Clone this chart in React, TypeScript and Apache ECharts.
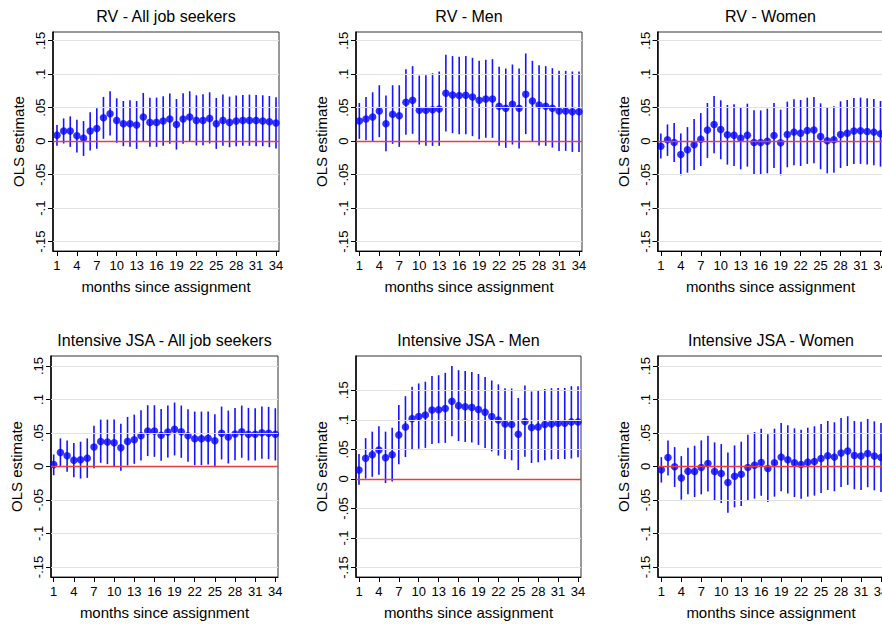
import React, { useEffect, useRef } from "react";
import * as echarts from "echarts";

// months since assignment
const months = Array.from({ length: 34 }, (_, i) => i + 1);
const xTickValues = [1, 4, 7, 10, 13, 16, 19, 22, 25, 28, 31, 34];
const yTickValues = [-0.15, -0.1, -0.05, 0, 0.05, 0.1, 0.15];
const yTickLabels = ["-.15", "-.1", "-.05", "0", ".05", ".1", ".15"];

const panelTitles = [
  "RV - All job seekers",
  "RV - Men",
  "RV - Women",
  "Intensive JSA - All job seekers",
  "Intensive JSA - Men",
  "Intensive JSA - Women",
];

// RV - All job seekers
const rvAllEst = [0.009, 0.015, 0.015, 0.008, 0.0045, 0.015, 0.019, 0.035, 0.041, 0.031, 0.026, 0.026, 0.024, 0.036, 0.028, 0.028, 0.03, 0.033, 0.025, 0.033, 0.036, 0.031, 0.031, 0.034, 0.026, 0.031, 0.028, 0.03, 0.031, 0.031, 0.031, 0.03, 0.029, 0.027];
const rvAllHi = [0.024, 0.034, 0.037, 0.032, 0.03, 0.043, 0.049, 0.066, 0.0745, 0.064, 0.06, 0.061, 0.06, 0.072, 0.065, 0.065, 0.067, 0.071, 0.063, 0.0715, 0.0745, 0.0685, 0.07, 0.073, 0.0645, 0.0695, 0.0665, 0.068, 0.069, 0.0695, 0.069, 0.0685, 0.0675, 0.0655];
const rvAllLo = [-0.007, -0.0035, -0.0085, -0.017, -0.022, -0.014, -0.0115, 0.0035, 0.0085, -0.0025, -0.0075, -0.0085, -0.0115, 0.0, -0.0085, -0.0085, -0.007, -0.004, -0.0125, -0.004, -0.001, -0.0065, -0.006, -0.0035, -0.0115, -0.007, -0.009, -0.0075, -0.007, -0.007, -0.0075, -0.0075, -0.009, -0.011];

// RV - Men
const rvMenEst = [0.03, 0.033, 0.036, 0.045, 0.026, 0.04, 0.038, 0.058, 0.061, 0.046, 0.046, 0.047, 0.048, 0.0715, 0.069, 0.068, 0.0685, 0.066, 0.061, 0.063, 0.063, 0.052, 0.049, 0.055, 0.049, 0.07, 0.06, 0.054, 0.052, 0.049, 0.045, 0.045, 0.044, 0.044];
const rvMenHi = [0.057, 0.066, 0.073, 0.0835, 0.068, 0.0835, 0.0835, 0.1075, 0.112, 0.098, 0.0985, 0.1015, 0.104, 0.129, 0.127, 0.126, 0.127, 0.1245, 0.12, 0.1215, 0.1225, 0.111, 0.1085, 0.1145, 0.1085, 0.131, 0.12, 0.1135, 0.112, 0.109, 0.105, 0.105, 0.104, 0.104];
const rvMenLo = [0.0035, 0.0015, 0.0, 0.006, -0.015, -0.004, -0.0085, 0.0095, 0.011, -0.005, -0.007, -0.007, -0.007, 0.0145, 0.012, 0.0105, 0.0105, 0.0075, 0.003, 0.005, 0.005, -0.007, -0.01, -0.005, -0.011, 0.0105, 0.0, -0.0065, -0.007, -0.0095, -0.0145, -0.0145, -0.016, -0.016];

// RV - Women
const rvWomenEst = [-0.0075, 0.002, -0.002, -0.02, -0.013, -0.0055, 0.003, 0.0165, 0.025, 0.0175, 0.0095, 0.009, 0.0045, 0.009, -0.002, -0.002, 0.0, 0.0085, -0.0025, 0.01, 0.0135, 0.012, 0.016, 0.0165, 0.007, 0.0005, 0.002, 0.01, 0.012, 0.015, 0.0155, 0.0145, 0.0135, 0.011];
const rvWomenHi = [0.0115, 0.025, 0.027, 0.0115, 0.021, 0.033, 0.042, 0.057, 0.0675, 0.061, 0.054, 0.055, 0.051, 0.056, 0.046, 0.046, 0.0485, 0.057, 0.047, 0.059, 0.0625, 0.0615, 0.065, 0.066, 0.0565, 0.0495, 0.052, 0.0595, 0.0615, 0.0645, 0.065, 0.064, 0.063, 0.06];
const rvWomenLo = [-0.026, -0.022, -0.031, -0.051, -0.047, -0.043, -0.037, -0.025, -0.018, -0.027, -0.035, -0.037, -0.042, -0.038, -0.05, -0.05, -0.048, -0.04, -0.051, -0.039, -0.036, -0.037, -0.034, -0.033, -0.042, -0.048, -0.047, -0.04, -0.037, -0.034, -0.034, -0.035, -0.036, -0.038];

// Intensive JSA - All job seekers
const jsaAllEst = [0.003, 0.021, 0.016, 0.0095, 0.01, 0.0125, 0.029, 0.0375, 0.0365, 0.0355, 0.028, 0.0375, 0.04, 0.046, 0.053, 0.053, 0.0465, 0.0515, 0.0555, 0.052, 0.046, 0.0415, 0.0415, 0.042, 0.0385, 0.0495, 0.044, 0.0485, 0.052, 0.048, 0.048, 0.0505, 0.0495, 0.048];
const jsaAllHi = [0.018, 0.042, 0.039, 0.035, 0.037, 0.042, 0.061, 0.07, 0.07, 0.07, 0.064, 0.074, 0.0775, 0.084, 0.0915, 0.0915, 0.086, 0.091, 0.0955, 0.091, 0.0855, 0.082, 0.082, 0.082, 0.078, 0.0895, 0.0835, 0.0875, 0.091, 0.0875, 0.087, 0.0895, 0.089, 0.087];
const jsaAllLo = [-0.013, 0.0, -0.008, -0.016, -0.018, -0.017, -0.0025, 0.0055, 0.0035, 0.0005, -0.0065, 0.0015, 0.004, 0.009, 0.0155, 0.0145, 0.0085, 0.0135, 0.0165, 0.013, 0.007, 0.002, 0.002, 0.003, -0.001, 0.0105, 0.0045, 0.0095, 0.013, 0.009, 0.009, 0.0115, 0.011, 0.009];

// Intensive JSA - Men
const jsaMenEst = [0.015, 0.035, 0.041, 0.049, 0.036, 0.041, 0.0745, 0.088, 0.102, 0.1055, 0.108, 0.1165, 0.117, 0.119, 0.1315, 0.124, 0.122, 0.121, 0.1175, 0.113, 0.1055, 0.0995, 0.093, 0.092, 0.0755, 0.097, 0.087, 0.088, 0.092, 0.093, 0.094, 0.094, 0.0965, 0.0965];
const jsaMenHi = [0.042, 0.069, 0.08, 0.089, 0.08, 0.0865, 0.125, 0.14, 0.156, 0.1615, 0.1645, 0.174, 0.1755, 0.1795, 0.191, 0.184, 0.1825, 0.181, 0.1775, 0.1725, 0.1665, 0.16, 0.1535, 0.153, 0.137, 0.158, 0.148, 0.149, 0.152, 0.1535, 0.154, 0.154, 0.157, 0.157];
const jsaMenLo = [-0.01, 0.0005, 0.0035, 0.007, -0.007, -0.0045, 0.025, 0.037, 0.05, 0.051, 0.0525, 0.059, 0.0605, 0.061, 0.072, 0.064, 0.0625, 0.0615, 0.0575, 0.0525, 0.0465, 0.0395, 0.0335, 0.0315, 0.015, 0.0375, 0.027, 0.028, 0.0315, 0.033, 0.0335, 0.0335, 0.0345, 0.0365];

// Intensive JSA - Women
const jsaWomenEst = [-0.005, 0.0135, -0.0005, -0.017, -0.007, -0.0075, -0.0015, 0.0045, -0.0075, -0.0105, -0.024, -0.0145, -0.0115, -0.0015, 0.002, 0.006, -0.003, 0.0055, 0.014, 0.01, 0.0055, 0.003, 0.0065, 0.0075, 0.012, 0.016, 0.014, 0.02, 0.023, 0.0165, 0.0155, 0.0195, 0.0155, 0.0135];
const jsaWomenHi = [0.014, 0.039, 0.029, 0.0155, 0.028, 0.031, 0.039, 0.046, 0.036, 0.0335, 0.021, 0.0315, 0.037, 0.0475, 0.0515, 0.0565, 0.048, 0.0565, 0.065, 0.0615, 0.057, 0.055, 0.058, 0.06, 0.0635, 0.068, 0.066, 0.0725, 0.075, 0.068, 0.067, 0.071, 0.0675, 0.065];
const jsaWomenLo = [-0.024, -0.0135, -0.0305, -0.0495, -0.0415, -0.0455, -0.0415, -0.0375, -0.0505, -0.0545, -0.069, -0.061, -0.059, -0.05, -0.048, -0.0435, -0.053, -0.045, -0.037, -0.0405, -0.0455, -0.048, -0.045, -0.0435, -0.0395, -0.035, -0.037, -0.0305, -0.0275, -0.034, -0.035, -0.031, -0.0355, -0.038];

const panelData = [
  [rvAllEst, rvAllLo, rvAllHi],
  [rvMenEst, rvMenLo, rvMenHi],
  [rvWomenEst, rvWomenLo, rvWomenHi],
  [jsaAllEst, jsaAllLo, jsaAllHi],
  [jsaMenEst, jsaMenLo, jsaMenHi],
  [jsaWomenEst, jsaWomenLo, jsaWomenHi],
];

// layout of the six plot regions (pixels) and axis ranges
const layouts = [
  { left: 53, top: 32, width: 226, height: 219, xMin: 0.4, xMax: 34.45, yMin: -0.164, yMax: 0.163 },
  { left: 356, top: 32, width: 226, height: 219, xMin: 0.5, xMax: 34.45, yMin: -0.164, yMax: 0.163 },
  { left: 657.5, top: 32, width: 226, height: 219, xMin: 0.5, xMax: 34.45, yMin: -0.164, yMax: 0.163 },
  { left: 51, top: 356, width: 227, height: 221, xMin: 0.6, xMax: 34.4, yMin: -0.165, yMax: 0.165 },
  { left: 356, top: 356, width: 225, height: 221, xMin: 0.55, xMax: 34.45, yMin: -0.166, yMax: 0.208 },
  { left: 658, top: 356, width: 226, height: 221, xMin: 0.5, xMax: 34.45, yMin: -0.165, yMax: 0.165 },
];

const FONT = "'Liberation Sans', Arial, Helvetica, sans-serif";
const BLUE = "#0000ff";

function buildOption() {
  const grid: any[] = [];
  const xAxis: any[] = [];
  const yAxis: any[] = [];
  const series: any[] = [];
  const title: any[] = [];

  layouts.forEach((L, i) => {
    grid.push({
      left: L.left,
      top: L.top,
      width: L.width,
      height: L.height,
      show: true,
      borderColor: "#333",
      borderWidth: 1,
      backgroundColor: "#fff",
      containLabel: false,
      outerBoundsMode: "none",
    });
    title.push({
      text: panelTitles[i],
      left: L.left + L.width / 2,
      top: L.top - 24,
      textAlign: "center",
      padding: 0,
      textStyle: { fontFamily: FONT, fontSize: 16, fontWeight: "normal", color: "#000" },
    });
    xAxis.push({
      type: "value",
      gridIndex: i,
      min: L.xMin,
      max: L.xMax,
      name: "months since assignment",
      nameLocation: "middle",
      nameGap: 28,
      nameTextStyle: { fontFamily: FONT, fontSize: 15, color: "#000" },
      axisLine: { show: true, onZero: false, lineStyle: { color: "#000", width: 1 } },
      axisTick: { show: true, length: 5, customValues: xTickValues, lineStyle: { color: "#000", width: 1 } },
      axisLabel: {
        show: true,
        customValues: xTickValues,
        margin: 8,
        fontFamily: FONT,
        fontSize: 13,
        color: "#000",
      },
      splitLine: { show: false },
    });
    yAxis.push({
      type: "value",
      gridIndex: i,
      min: L.yMin,
      max: L.yMax,
      name: "OLS estimate",
      nameLocation: "middle",
      nameGap: 27,
      nameTextStyle: { fontFamily: FONT, fontSize: 15, color: "#000" },
      axisLine: { show: true, onZero: false, lineStyle: { color: "#000", width: 1.5 } },
      axisTick: { show: true, length: 5, customValues: yTickValues, lineStyle: { color: "#000", width: 1 } },
      axisLabel: {
        show: true,
        customValues: yTickValues,
        rotate: 90,
        margin: 6,
        fontFamily: FONT,
        fontSize: 13,
        color: "#000",
        formatter: (v: number) => {
          const k = yTickValues.findIndex((t) => Math.abs(t - v) < 1e-9);
          return k >= 0 ? yTickLabels[k] : "";
        },
      },
      splitLine: { show: false },
    });

    // gridlines and zero reference line
    series.push({
      type: "scatter",
      xAxisIndex: i,
      yAxisIndex: i,
      data: [],
      z: 1,
      silent: true,
      markLine: {
        silent: true,
        symbol: "none",
        animation: false,
        label: { show: false },
        data: [
          ...yTickValues
            .filter((v) => v !== 0)
            .map((v) => ({ yAxis: v, lineStyle: { color: "#e2e2e2", width: 1.2, type: "solid" } })),
          { yAxis: 0, lineStyle: { color: "#f03c3c", width: 1.4, type: "solid" } },
        ],
      },
    });

    const [est, lo, hi] = panelData[i];
    // confidence intervals
    series.push({
      type: "custom",
      xAxisIndex: i,
      yAxisIndex: i,
      z: 3,
      silent: true,
      data: months.map((m, k) => [m, lo[k], hi[k]]),
      encode: { x: 0, y: [1, 2] },
      renderItem: (params: any, api: any) => {
        const x = api.value(0);
        const p1 = api.coord([x, api.value(1)]);
        const p2 = api.coord([x, api.value(2)]);
        return {
          type: "line",
          shape: { x1: p1[0], y1: p1[1], x2: p2[0], y2: p2[1] },
          style: { stroke: "#1414ff", lineWidth: 1.6 },
        };
      },
    });
    // point estimates
    series.push({
      type: "scatter",
      xAxisIndex: i,
      yAxisIndex: i,
      z: 4,
      silent: true,
      symbol: "circle",
      symbolSize: 7.5,
      itemStyle: { color: BLUE },
      data: months.map((m, k) => [m, est[k]]),
    });
  });

  return {
    animation: false,
    backgroundColor: "#fff",
    title,
    grid,
    xAxis,
    yAxis,
    series,
  };
}

export default function App() {
  const ref = useRef<HTMLDivElement>(null);
  useEffect(() => {
    if (!ref.current) return;
    const chart = echarts.init(ref.current, undefined, { renderer: "svg" });
    chart.setOption(buildOption() as any);
    return () => chart.dispose();
  }, []);
  return (
    <div style={{ position: "fixed", left: 0, top: 0, width: 882, height: 624, overflow: "hidden", background: "#fff" }}>
      <div ref={ref} style={{ width: 882, height: 624 }} />
    </div>
  );
}
